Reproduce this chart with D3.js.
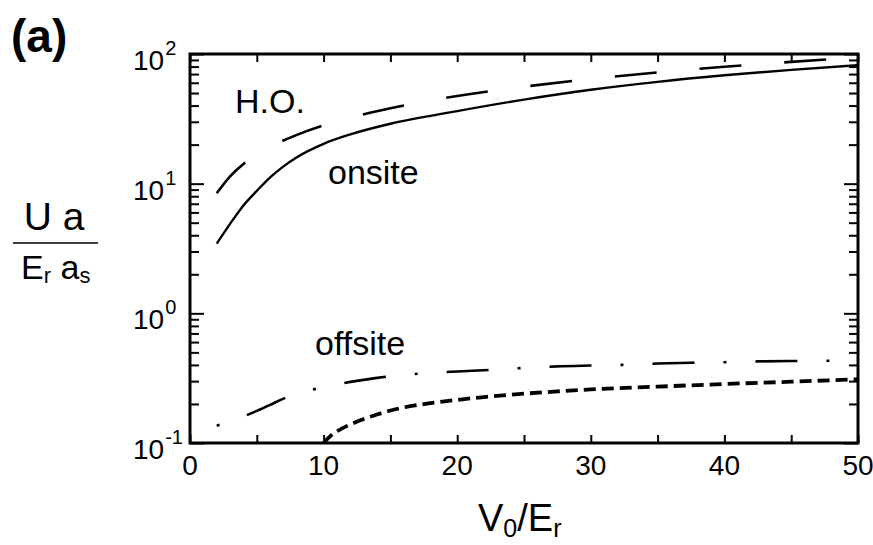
<!DOCTYPE html>
<html>
<head>
<meta charset="utf-8">
<script src="https://cdn.jsdelivr.net/npm/d3@7"></script>
<style>
  body { margin: 0; background: #fff; }
  svg text { font-family: "Liberation Sans", Arial, sans-serif; fill: #000; }
</style>
</head>
<body>
<div id="chart"></div>
<script>
// V0/Er values and the curves
const vHO = [2, 3, 4, 5, 6, 8, 10, 12, 15, 20, 25, 30, 35, 40, 45, 50];
const uHO = [8.43, 11.4, 14.2, 16.8, 19.2, 23.8, 28.2, 32.3, 38.2, 47.4, 56.0, 64.2, 72.1, 79.7, 87.0, 94.2];

const vOnsite = [2, 3, 4, 5, 6, 7, 8, 10, 12, 15, 20, 25, 30, 35, 40, 45, 50];
const uOnsite = [3.45, 4.9, 6.8, 8.8, 11.2, 13.6, 16.0, 20.3, 24.0, 29.0, 36.3, 44.5, 53, 61, 68.5, 75.5, 82];

const vOffsite = [2, 3, 4, 5, 6, 7, 8, 9, 10, 12, 14, 16, 18, 20, 22.5, 25, 27.5, 30, 32.5, 35, 37.5, 40, 42.5, 45, 47.5, 50];
const uOffsite = [0.136, 0.147, 0.160, 0.177, 0.197, 0.220, 0.239, 0.255, 0.270, 0.296, 0.318, 0.335, 0.347, 0.356, 0.366, 0.379, 0.390, 0.396, 0.401, 0.410, 0.416, 0.420, 0.426, 0.429, 0.431, 0.433];

const vOffsite2 = [10, 10.5, 11, 12, 13, 14, 15, 16, 18, 20, 22, 25, 27.5, 30, 35, 40, 45, 50];
const uOffsite2 = [0.100, 0.113, 0.123, 0.139, 0.153, 0.166, 0.178, 0.188, 0.203, 0.215, 0.226, 0.240, 0.250, 0.259, 0.272, 0.285, 0.297, 0.310];

const xTicks = [0, 5, 10, 15, 20, 25, 30, 35, 40, 45, 50];
const xTickLabels = [0, 10, 20, 30, 40, 50];
const yMajor = [0.1, 1, 10, 100];
const yExponents = ["-1", "0", "1", "2"];

const svg = d3.select('#chart')
  .append('svg')
  .attr('width', 873)
  .attr('height', 545);

const x = d3.scaleLinear()
  .domain([0, 50])
  .range([190, 858]);

const y = d3.scaleLog()
  .domain([0.1, 100])
  .range([443, 54]);

// minor ticks 2..9 in every decade
const yMinor = [];
yMajor.slice(0, 3).forEach(d => {
  for (let k = 2; k <= 9; k++) yMinor.push(d * k);
});

svg.append("clipPath").attr("id", "plot")
  .append("rect")
  .attr("x", x(0)).attr("y", y(100))
  .attr("width", x(50) - x(0)).attr("height", y(0.1) - y(100));

function tickStyle(g) {
  g.select(".domain").remove();
  g.selectAll(".tick line").attr("stroke", "#000").attr("stroke-width", 2);
}

svg.append("g").attr("transform", `translate(0,${y(0.1)})`)
  .call(d3.axisBottom(x).tickValues(xTicks).tickSize(-8).tickFormat(""))
  .call(tickStyle);
svg.append("g").attr("transform", `translate(0,${y(100)})`)
  .call(d3.axisTop(x).tickValues(xTicks).tickSize(-8).tickFormat(""))
  .call(tickStyle);

svg.append("g").attr("transform", `translate(${x(0)},0)`)
  .call(d3.axisLeft(y).tickValues(yMajor).tickSize(-14).tickFormat(""))
  .call(tickStyle);
svg.append("g").attr("transform", `translate(${x(0)},0)`)
  .call(d3.axisLeft(y).tickValues(yMinor).tickSize(-9).tickFormat(""))
  .call(tickStyle);
svg.append("g").attr("transform", `translate(${x(50)},0)`)
  .call(d3.axisRight(y).tickValues(yMajor).tickSize(-14).tickFormat(""))
  .call(tickStyle);
svg.append("g").attr("transform", `translate(${x(50)},0)`)
  .call(d3.axisRight(y).tickValues(yMinor).tickSize(-9).tickFormat(""))
  .call(tickStyle);

// curves
const line = d3.line()
  .x(d => x(d[0]))
  .y(d => y(d[1]))
  .curve(d3.curveMonotoneX);

const curves = svg.append("g").attr("clip-path", "url(#plot)").attr("fill", "none").attr("stroke", "#000");

curves.append("path")
  .attr("d", line(d3.zip(vHO, uHO)))
  .attr("stroke-width", 2.6)
  .attr("stroke-dasharray", "42,43");

curves.append("path")
  .attr("d", line(d3.zip(vOnsite, uOnsite)))
  .attr("stroke-width", 2.4);

curves.append("path")
  .attr("d", line(d3.zip(vOffsite, uOffsite)))
  .attr("stroke-width", 2.6)
  .attr("stroke-dasharray", "3,29,42,29");

curves.append("path")
  .attr("d", line(d3.zip(vOffsite2, uOffsite2)))
  .attr("stroke-width", 3.8)
  .attr("stroke-dasharray", "12,6");

// frame
svg.append("rect")
  .attr("x", x(0)).attr("y", y(100))
  .attr("width", x(50) - x(0)).attr("height", y(0.1) - y(100))
  .attr("fill", "none").attr("stroke", "#000").attr("stroke-width", 3);

// tick labels
svg.append("g").selectAll("text")
  .data(xTickLabels)
  .join("text")
  .attr("x", d => x(d))
  .attr("y", 475)
  .attr("text-anchor", "middle")
  .attr("font-size", "28px")
  .text(d => d);

const yl = svg.append("g").selectAll("text")
  .data(yMajor)
  .join("text")
  .attr("x", 133)
  .attr("y", d => y(d) + 16)
  .attr("font-size", "28px");
yl.append("tspan").text("10");
yl.append("tspan").attr("dy", -15).attr("dx", 1).attr("font-size", "20px")
  .text((d, i) => yExponents[i]);

// annotations
svg.append("text").attr("x", 235).attr("y", 113).attr("font-size", "34px").text("H.O.");
svg.append("text").attr("x", 328).attr("y", 184).attr("font-size", "34px").text("onsite");
svg.append("text").attr("x", 315).attr("y", 355).attr("font-size", "34px").text("offsite");

svg.append("text").attr("x", 11).attr("y", 52)
  .attr("font-size", "46px").attr("font-weight", "bold").text("(a)");

// x label
const xl = svg.append("text").attr("x", 478).attr("y", 531).attr("font-size", "38px");
xl.append("tspan").text("V");
xl.append("tspan").attr("font-size", "25px").attr("dy", 6).text("0");
xl.append("tspan").attr("dy", -6).text("/E");
xl.append("tspan").attr("font-size", "25px").attr("dy", 6).text("r");

// y label as a fraction
svg.append("text").attr("x", 54).attr("y", 230).attr("text-anchor", "middle")
  .attr("font-size", "39px").text("U a");
svg.append("line").attr("x1", 13).attr("x2", 98).attr("y1", 243).attr("y2", 243)
  .attr("stroke", "#000").attr("stroke-width", 1.6);
const yt = svg.append("text").attr("x", 21).attr("y", 279).attr("font-size", "34px");
yt.append("tspan").text("E");
yt.append("tspan").attr("font-size", "22px").attr("dy", 4).text("r");
yt.append("tspan").attr("dy", -4).text(" a");
yt.append("tspan").attr("font-size", "22px").attr("dy", 4).text("s");
</script>
</body>
</html>
